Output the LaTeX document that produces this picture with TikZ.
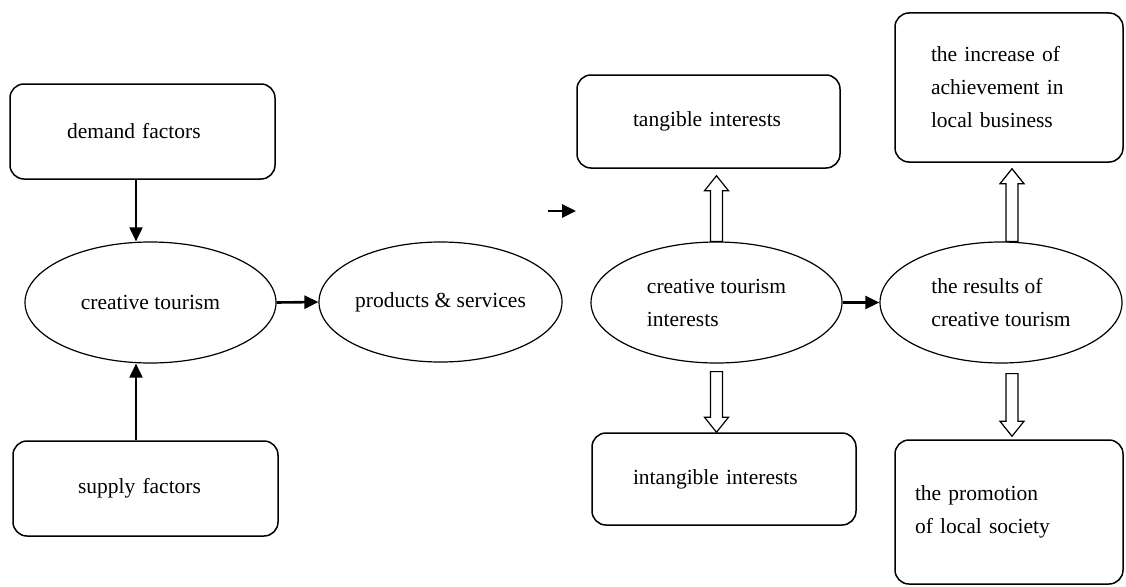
\documentclass[tikz,border=0pt]{standalone}
\usepackage{fontspec}
\setmainfont{Liberation Serif}
\usetikzlibrary{positioning, calc, shapes.geometric, arrows.meta}
\tikzset{
    factor box/.style={draw, rounded corners=14pt, line width=1.5pt, align=left},
    idea oval/.style={ellipse, draw, line width=1.2pt, inner sep=0pt, align=left},
    flow arrow/.style={line width=2pt, -{Triangle[length=14pt, width=13pt]}},
    hollow arrow/.style={draw, fill=white, line width=1.2pt},
}
% block arrow with an open head, from #1 to #2 (vertical)
\newcommand{\blockarrow}[2]{%
  \draw[hollow arrow] let \p1=(#1), \p2=(#2), \n1={(\y2>\y1)*2-1} in
    (\x1-6pt,\y1) -- (\x1-6pt,\y2-\n1*15pt) -- (\x1-12pt,\y2-\n1*15pt) -- (\x1,\y2)
    -- (\x1+12pt,\y2-\n1*15pt) -- (\x1+6pt,\y2-\n1*15pt) -- (\x1+6pt,\y1) -- cycle;}

\begin{document}
\begin{tikzpicture}[x=1pt, y=-1pt, font=\fontsize{21.5}{33}\selectfont]
\useasboundingbox (0,0) rectangle (1126,586);

% left part
\node[factor box, minimum width=265pt, minimum height=95pt, text width=151pt, inner xsep=57pt] (demand) at (142.5,131.5) {demand factors};
\node[factor box, minimum width=265pt, minimum height=95pt, text width=135pt, inner xsep=65pt] (supply) at (145.5,488.5) {supply factors};
\node[idea oval, minimum width=251pt, minimum height=121pt] (ctour) at (150.5,302.5) {creative tourism};
\node[idea oval, minimum width=243pt, minimum height=120pt] (products) at (440.5,302) {products \& services};

\draw[flow arrow] ([xshift=-6.5pt]demand.south) -- ([xshift=-6.5pt]demand.south |- ctour.north);
\draw[flow arrow] ([xshift=-9.5pt]supply.north) -- ([xshift=-9.5pt]supply.north |- ctour.south);
\draw[flow arrow, line width=2.6pt] (ctour.east) -- (products.west);

\coordinate (straytail) at (548,211);
\coordinate (strayhead) at (576,211);
\draw[flow arrow, line width=2.6pt] (straytail) -- (strayhead);

% right part
\node[factor box, minimum width=263pt, minimum height=93pt, text width=151pt, inner xsep=56pt] (tangible) at (708.5,121.5) {tangible interests};
\node[factor box, minimum width=264pt, minimum height=92pt, text width=182pt, inner xsep=41pt] (intangible) at (724,479) {intangible interests};
\node[idea oval, minimum width=251pt, minimum height=121pt] (ctint) at (716.5,302.5) {creative tourism\\interests};
\node[idea oval, minimum width=242pt, minimum height=121pt] (results) at (1001,302.5) {the results of\\creative tourism};
\node[factor box, minimum width=228pt, minimum height=149pt, text width=156pt, inner xsep=36pt] (increase) at (1009,87.5) {the increase of\\achievement in\\local business};
\node[factor box, minimum width=228pt, minimum height=144pt, text width=188pt, inner xsep=20pt] (promotion) at (1009,512) {the promotion\\of local society};

\draw[flow arrow, line width=2.6pt] (ctint.east) -- (results.west);

\blockarrow{ctint.north}{$(tangible.south)+(0,7)$}
\blockarrow{$(ctint.south)+(0,8)$}{intangible.north}
\blockarrow{$(results.north)+(11,0)$}{$(increase.south)+(3,6)$}
\blockarrow{$(results.south)+(11,10)$}{$(promotion.north)+(3,-3)$}
\end{tikzpicture}
\end{document}
